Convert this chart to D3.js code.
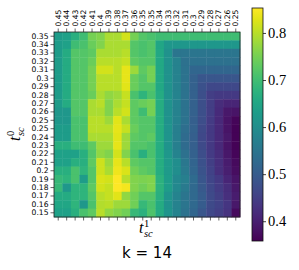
<!DOCTYPE html>
<html><head><meta charset="utf-8">
<script src="https://cdn.jsdelivr.net/npm/d3@7"></script>
<style>body{margin:0;background:#fff}svg{display:block}</style>
</head><body>
<svg id="c" width="299" height="270"></svg>
<script>
const xLabels = ["0.45","0.44","0.43","0.42","0.41","0.4","0.39","0.38","0.37","0.36","0.35","0.35","0.34","0.33","0.32","0.31","0.3","0.29","0.28","0.27","0.26","0.25"];
const yLabels = ["0.35","0.34","0.33","0.32","0.31","0.3","0.29","0.28","0.27","0.26","0.25","0.25","0.24","0.23","0.22","0.21","0.2","0.19","0.18","0.17","0.16","0.15"];
const zValues = [
[0.63,0.64,0.67,0.70,0.75,0.76,0.79,0.79,0.82,0.75,0.72, 0.71,0.70,0.70,0.70,0.70,0.70,0.70,0.70,0.70,0.70,0.70],
[0.63,0.64,0.70,0.71,0.74,0.76,0.79,0.79,0.79,0.72,0.71, 0.72,0.65,0.62,0.62,0.62,0.62,0.62,0.62,0.62,0.62,0.62],
[0.63,0.66,0.72,0.72,0.73,0.79,0.79,0.79,0.80,0.72,0.71, 0.72,0.655,0.61,0.55,0.55,0.55,0.55,0.55,0.55,0.55,0.55],
[0.63,0.66,0.72,0.72,0.74,0.80,0.80,0.80,0.81,0.73,0.72, 0.72,0.655,0.61,0.575,0.54,0.54,0.54,0.54,0.54,0.54,0.54],
[0.63,0.66,0.72,0.72,0.75,0.82,0.82,0.80,0.835,0.78,0.73, 0.75,0.655,0.61,0.575,0.545,0.52,0.52,0.52,0.52,0.52,0.52],
[0.63,0.66,0.72,0.72,0.75,0.80,0.80,0.80,0.835,0.74,0.72, 0.75,0.655,0.61,0.575,0.545,0.51,0.49,0.49,0.49,0.49,0.49],
[0.63,0.66,0.72,0.72,0.75,0.80,0.80,0.80,0.83,0.74,0.72, 0.72,0.655,0.61,0.575,0.545,0.51,0.48,0.465,0.465,0.465,0.465],
[0.63,0.66,0.72,0.72,0.74,0.79,0.77,0.78,0.81,0.71,0.68, 0.71,0.66,0.61,0.58,0.545,0.51,0.477,0.447,0.44,0.44,0.44],
[0.63,0.66,0.72,0.72,0.79,0.80,0.76,0.79,0.81,0.73,0.74, 0.75,0.665,0.61,0.58,0.545,0.51,0.477,0.447,0.42,0.41,0.41],
[0.62,0.62,0.72,0.72,0.79,0.79,0.76,0.80,0.82,0.73,0.70, 0.75,0.665,0.61,0.575,0.545,0.51,0.477,0.447,0.417,0.39,0.385],
[0.62,0.62,0.71,0.71,0.80,0.80,0.78,0.83,0.79,0.73,0.72, 0.72,0.665,0.61,0.575,0.545,0.505,0.475,0.445,0.415,0.385,0.365],
[0.63,0.63,0.71,0.71,0.80,0.80,0.80,0.835,0.81,0.74,0.72, 0.72,0.665,0.615,0.57,0.535,0.51,0.47,0.44,0.415,0.385,0.36],
[0.63,0.63,0.71,0.71,0.79,0.79,0.79,0.83,0.78,0.73,0.72, 0.73,0.665,0.615,0.57,0.53,0.505,0.465,0.44,0.415,0.39,0.36],
[0.67,0.67,0.70,0.70,0.73,0.78,0.78,0.835,0.78,0.72,0.72, 0.71,0.665,0.615,0.57,0.53,0.505,0.47,0.44,0.415,0.385,0.36],
[0.64,0.64,0.64,0.67,0.72,0.77,0.76,0.82,0.76,0.71,0.67, 0.71,0.665,0.62,0.58,0.54,0.51,0.475,0.445,0.42,0.39,0.365],
[0.64,0.64,0.67,0.67,0.73,0.815,0.78,0.835,0.80,0.73,0.72, 0.72,0.665,0.625,0.60,0.555,0.515,0.48,0.45,0.425,0.395,0.37],
[0.67,0.67,0.71,0.68,0.72,0.815,0.79,0.84,0.825,0.745,0.73, 0.72,0.665,0.625,0.60,0.56,0.52,0.485,0.455,0.425,0.40,0.375],
[0.69,0.68,0.71,0.63,0.72,0.825,0.82,0.853,0.80,0.76,0.755, 0.76,0.675,0.63,0.59,0.57,0.53,0.49,0.46,0.44,0.41,0.385],
[0.69,0.62,0.68,0.68,0.73,0.82,0.81,0.853,0.845,0.76,0.745, 0.76,0.675,0.63,0.59,0.56,0.525,0.495,0.465,0.445,0.42,0.39],
[0.66,0.66,0.68,0.68,0.72,0.80,0.81,0.83,0.77,0.745,0.72, 0.72,0.67,0.615,0.58,0.55,0.525,0.50,0.47,0.45,0.425,0.395],
[0.65,0.65,0.68,0.62,0.71,0.795,0.80,0.78,0.78,0.745,0.69, 0.71,0.66,0.61,0.575,0.55,0.525,0.50,0.47,0.455,0.435,0.39],
[0.64,0.64,0.67,0.71,0.73,0.80,0.77,0.76,0.745,0.69,0.675, 0.715,0.66,0.615,0.58,0.545,0.52,0.49,0.465,0.45,0.43,0.37]
];
const colorTicks = [0.4,0.5,0.6,0.7,0.8];
const colorDomain = [0.358,0.853];
const titleText = "k = 14";

const svg = d3.select("#c");
const L=54, R=240, T=32, B=217;
const idx = d3.range(xLabels.length);
const x = d3.scaleBand().domain(idx).range([L,R]).padding(0);
const y = d3.scaleBand().domain(d3.range(yLabels.length)).range([T,B]).padding(0);
const color = d3.scaleSequential(d3.interpolateViridis).domain(colorDomain);

const cells=[];
zValues.forEach((row,r)=>row.forEach((v,c)=>cells.push({r,c,v})));
svg.append("g").selectAll("rect").data(cells).join("rect")
  .attr("x",d=>x(d.c)).attr("y",d=>y(d.r))
  .attr("width",x.bandwidth()+0.4).attr("height",y.bandwidth()+0.4)
  .attr("fill",d=>color(d.v));

svg.append("rect").attr("x",L).attr("y",T).attr("width",R-L).attr("height",B-T)
  .attr("fill","none").attr("stroke","#222").attr("stroke-width",0.8);

const fontTick = "DejaVu Sans";
const gTop = svg.append("g").attr("transform",`translate(0,${T})`)
  .call(d3.axisTop(x).tickSize(3.5).tickFormat(i=>xLabels[i]));
gTop.select(".domain").remove();
gTop.selectAll("text").attr("transform","rotate(-90)").attr("x",5.5).attr("y",0)
  .attr("dy","0.33em").style("text-anchor","start")
  .style("font-family",fontTick).style("font-size","7.6px").attr("fill","#000");
gTop.selectAll("line").attr("stroke","#222").attr("stroke-width",0.7);

const gBot = svg.append("g").attr("transform",`translate(0,${B})`)
  .call(d3.axisBottom(x).tickSize(3.5).tickFormat(""));
gBot.select(".domain").remove();
gBot.selectAll("line").attr("stroke","#222").attr("stroke-width",0.7);

const gLeft = svg.append("g").attr("transform",`translate(${L},0)`)
  .call(d3.axisLeft(y).tickSize(3.5).tickPadding(2).tickFormat(i=>yLabels[i]));
gLeft.select(".domain").remove();
gLeft.selectAll("text").style("font-family",fontTick).style("font-size","7.6px").attr("fill","#000");
gLeft.selectAll("line").attr("stroke","#222").attr("stroke-width",0.7);

// colorbar
const cbX=252, cbW=11, cbT=8, cbB=241;
const cy = d3.scaleLinear().domain(colorDomain).range([cbB,cbT]);
const defs = svg.append("defs");
const grad = defs.append("linearGradient").attr("id","vg").attr("x1",0).attr("y1",1).attr("x2",0).attr("y2",0);
d3.range(0,1.0001,0.05).forEach(t=>grad.append("stop").attr("offset",t).attr("stop-color",d3.interpolateViridis(t)));
svg.append("rect").attr("x",cbX).attr("y",cbT).attr("width",cbW).attr("height",cbB-cbT)
  .attr("fill","url(#vg)").attr("stroke","#111").attr("stroke-width",0.8);
const gCb = svg.append("g").attr("transform",`translate(${cbX+cbW},0)`)
  .call(d3.axisRight(cy).tickValues(colorTicks).tickSize(3).tickPadding(2).tickFormat(d3.format(".1f")));
gCb.select(".domain").remove();
gCb.selectAll("text").style("font-family","Liberation Serif").style("font-size","14.5px").attr("fill","#000");
gCb.selectAll("line").attr("stroke","#111").attr("stroke-width",0.8);

// axis labels
function tlabel(g, sup){
  g.append("text").attr("x",0).attr("y",0).text("t")
    .style("font-family","Liberation Serif").style("font-style","italic").style("font-size","16px");
  g.append("text").attr("x",5).attr("y",-6.5).text(sup)
    .style("font-family","Liberation Serif").style("font-size","10.5px");
  g.append("text").attr("x",5).attr("y",3.8).text("sc")
    .style("font-family","Liberation Serif").style("font-style","italic").style("font-size","10.5px");
}
tlabel(svg.append("g").attr("transform","translate(20,141) rotate(-90)"),"0");
tlabel(svg.append("g").attr("transform","translate(139,233)"),"1");

svg.append("text").attr("x",147).attr("y",258).attr("text-anchor","middle")
  .style("font-family","DejaVu Sans").style("font-size","15px").text(titleText);
</script>
</body></html>
